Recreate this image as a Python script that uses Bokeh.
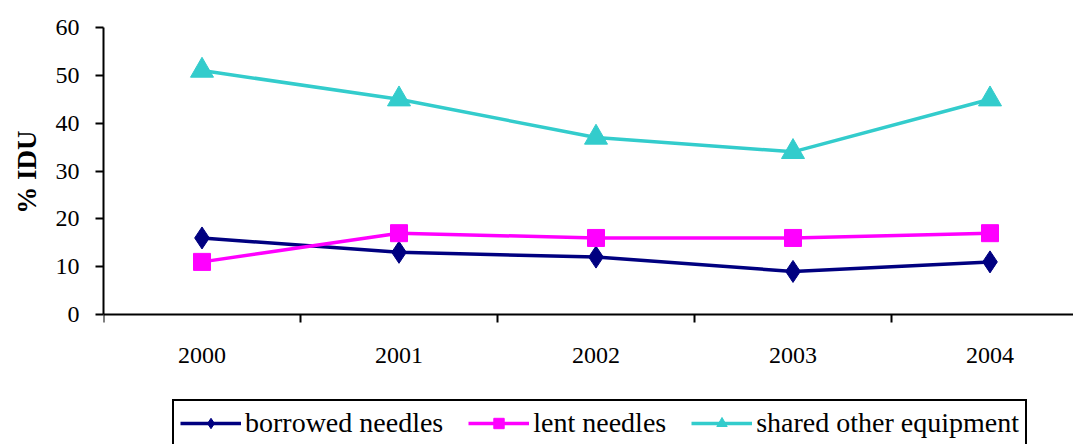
from bokeh.plotting import figure
from bokeh.models import FixedTicker, Range1d, Legend, LegendItem, Title
from bokeh.embed import file_html
from bokeh.resources import INLINE

years = ["2000", "2001", "2002", "2003", "2004"]
borrowed = [16, 13, 12, 9, 11]
lent = [11, 17, 16, 16, 17]
shared = [51, 45, 37, 34, 45]
y_ticks = [0, 10, 20, 30, 40, 50, 60]

FONT = "Liberation Serif"
xs = list(range(len(years)))

FRAME_H = 417
Y_BOTTOM = 60 - FRAME_H * 60 / 287

p = figure(width=1071, height=444, frame_width=970, frame_height=FRAME_H,
           output_backend="svg", toolbar_location=None,
           x_range=Range1d(-0.5, -0.5 + 970 / 197), y_range=Range1d(Y_BOTTOM, 60),
           min_border_left=101, min_border_right=0, min_border_top=27, min_border_bottom=0)
p.outline_line_color = None
p.xgrid.visible = False
p.ygrid.visible = False

# x axis (drawn at y = 0 inside the frame)
p.xaxis.fixed_location = 0
p.xaxis.ticker = FixedTicker(ticks=xs, minor_ticks=[i - 0.5 for i in range(len(years) + 1)])
p.xaxis.major_label_overrides = {i: y for i, y in enumerate(years)}
p.xaxis.major_tick_out = 0
p.xaxis.major_tick_in = 0
p.xaxis.minor_tick_out = 8
p.xaxis.minor_tick_in = 0
p.xaxis.minor_tick_line_color = "black"
p.xaxis.minor_tick_line_width = 2
p.xaxis.axis_line_width = 2
p.xaxis.major_label_standoff = 25
p.xaxis.major_label_text_font = FONT
p.xaxis.major_label_text_font_size = "24px"
p.xaxis.major_label_text_color = "black"

# y axis
p.yaxis.ticker = FixedTicker(ticks=y_ticks)
p.yaxis.bounds = (0, 60)
p.yaxis.minor_tick_line_color = None
p.yaxis.major_tick_out = 8
p.yaxis.major_tick_in = 0
p.yaxis.major_tick_line_width = 2
p.yaxis.axis_line_width = 2
p.yaxis.major_label_standoff = 16
p.yaxis.major_label_text_font = FONT
p.yaxis.major_label_text_font_size = "24px"
p.yaxis.major_label_text_color = "black"

# y axis title, centred on the 0-60 span
p.add_layout(Title(text="% IDU", align="right", offset=103, vertical_align="middle",
                   standoff=20, text_font=FONT, text_font_style="bold",
                   text_font_size="27px", text_color="black"), "left")

series = [
    ("borrowed needles", borrowed, "#000080", "diamond", 22),
    ("lent needles", lent, "#FF00FF", "square", 17),
    ("shared other equipment", shared, "#33CCCC", "triangle", 23),
]
items = []
for name, vals, color, marker, size in series:
    l = p.line(xs, vals, line_color=color, line_width=3.5)
    s = p.scatter(xs, vals, marker=marker, size=size,
                  fill_color=color, line_color=color)
    items.append(LegendItem(label=name, renderers=[l, s]))

legend = Legend(items=items, orientation="horizontal", location=(69, -3),
                border_line_color="black", border_line_width=2, border_line_alpha=1,
                background_fill_color="white", background_fill_alpha=1,
                label_text_font=FONT, label_text_font_size="28px", label_text_color="black",
                glyph_width=61, glyph_height=26, label_standoff=4, spacing=25,
                padding=6, margin=0)
p.add_layout(legend, "center")

open("out.html", "w").write(file_html(p, INLINE))
